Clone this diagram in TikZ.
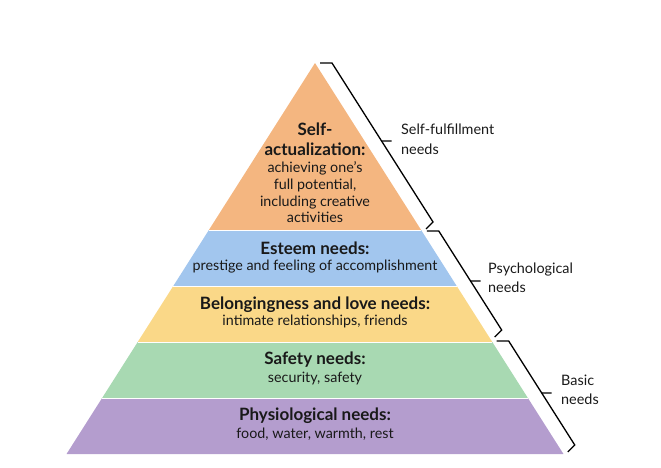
\documentclass[tikz,border=0pt]{standalone}
\usepackage{fontspec}
\setmainfont{Lato}
\definecolor{cOrange}{RGB}{244,182,128}
\definecolor{cBlue}{RGB}{162,198,238}
\definecolor{cYellow}{RGB}{250,216,136}
\definecolor{cGreen}{RGB}{168,217,178}
\definecolor{cPurple}{RGB}{180,157,206}
\definecolor{cText}{RGB}{25,25,25}
\begin{document}
\begin{tikzpicture}[x=1pt,y=-1pt,
  layer/.style={draw=white,line width=0.8pt},
  ttl/.style={anchor=mid,inner sep=0pt,font=\fontsize{17}{19}\selectfont\bfseries,text=cText},
  sub/.style={anchor=mid,inner sep=0pt,font=\fontsize{14.3}{16}\selectfont,text=cText},
  lbl/.style={anchor=mid west,inner sep=0pt,font=\fontsize{14.4}{16}\selectfont,text=cText},
  brace/.style={draw=black,line width=1.3pt,line join=miter}]
\useasboundingbox (0,0) rectangle (661,467);
\def\sl{0.6355}
\coordinate (apex) at (315,63);
% layers
\fill[cOrange] (315,63) -- ({315+\sl*167},230) -- ({315-\sl*167},230) -- cycle;
\fill[cBlue] ({315-\sl*167},230) -- ({315+\sl*167},230) -- ({315+\sl*223},286) -- ({315-\sl*223},286) -- cycle;
\fill[cYellow] ({315-\sl*223},286) -- ({315+\sl*223},286) -- ({315+\sl*279},342) -- ({315-\sl*279},342) -- cycle;
\fill[cGreen] ({315-\sl*279},342) -- ({315+\sl*279},342) -- ({315+\sl*335},398) -- ({315-\sl*335},398) -- cycle;
\fill[cPurple] ({315-\sl*335},398) -- ({315+\sl*335},398) -- ({315+\sl*391},454) -- ({315-\sl*391},454) -- cycle;
\foreach \yy in {230,286,342,398}{
  \draw[white,line width=0.8pt] ({315-\sl*(\yy-63)},\yy) -- ({315+\sl*(\yy-63)},\yy);
}
% texts
\node[ttl] (sa1) at (315,133) {Self-};
\node[ttl] (sa2) at (315,153) {actualization:};
\node[sub] (sa3) at (315,170) {achieving one’s};
\node[sub] (sa4) at (315,187) {full potential,};
\node[sub] (sa5) at (315,204) {including creative};
\node[sub] (sa6) at (315,220) {activities};
\node[ttl] (es1) at (315,252) {Esteem needs:};
\node[sub] (es2) at (315,268) {prestige and feeling of accomplishment};
\node[ttl] (bl1) at (315,307) {Belongingness and love needs:};
\node[sub] (bl2) at (315,323) {intimate relationships, friends};
\node[ttl] (sf1) at (315,362) {Safety needs:};
\node[sub] (sf2) at (315,380) {security, safety};
\node[ttl] (ph1) at (315,418) {Physiological needs:};
\node[sub] (ph2) at (315,436) {food, water, warmth, rest};
% braces
\foreach \yt/\ym/\yb in {63/141/222, 231/281/330, 341/393/445}{
  \draw[brace] ({315+\sl*(\yt-63)+5},\yt) -- ({315+\sl*(\yt-63)+17},\yt)
     -- ({315+\sl*(\ym-63)+17},\ym) -- ({315+\sl*(\ym-63)+27},\ym);
  \draw[brace] ({315+\sl*(\ym-63)+17},\ym) -- ({315+\sl*(\yb-63)+17},\yb)
     -- ({315+\sl*(\yb-63)+10},{\yb+7});
}
% labels
\node[lbl] (l1a) at (401,132) {Self-fulfillment};
\node[lbl] (l1b) at (401,152) {needs};
\node[lbl] (l2a) at (488,271) {Psychological};
\node[lbl] (l2b) at (488,290) {needs};
\node[lbl] (l3a) at (561,383) {Basic};
\node[lbl] (l3b) at (561,402) {needs};
\end{tikzpicture}
\end{document}
